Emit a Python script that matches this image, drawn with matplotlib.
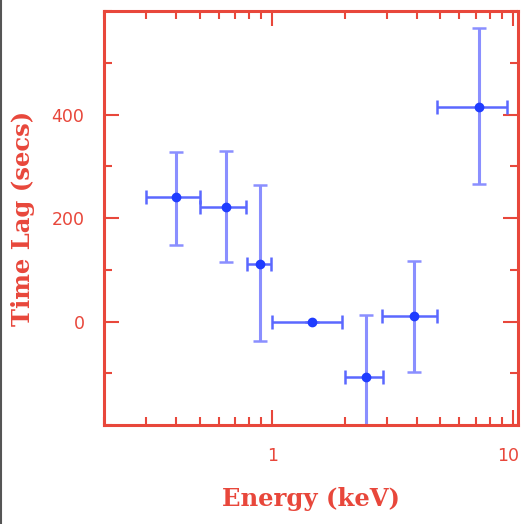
import matplotlib
matplotlib.use("Agg")
import matplotlib.pyplot as plt
import matplotlib.transforms as mtransforms
from matplotlib.ticker import LogLocator, FixedLocator, NullFormatter, MultipleLocator
from matplotlib.lines import Line2D
import numpy as np

# Data
energy = [0.40, 0.64, 0.89, 1.46, 2.45, 3.9, 7.2]
e_lo = [0.30, 0.50, 0.785, 1.0, 2.0, 2.87, 4.85]
e_hi = [0.50, 0.78, 0.985, 1.95, 2.9, 4.85, 9.45]
lag = [240, 222, 112, 0, -108, 10, 415]
lag_lo = [148, 115, -37, 0, -260, -98, 265]
lag_hi = [328, 330, 263, 0, 12, 117, 567]

xticks = [1, 10]
xticklabels = ["1", "10"]
yticks = [0, 200, 400]
yticklabels = ["0", "200", "400"]

red = "#e8473b"
blue_bar = "#8a8fff"
blue_pt = "#1f3cff"

fig = plt.figure(figsize=(5.21, 5.24), dpi=100)
ax = fig.add_axes([0.1996, 0.1889, 0.7946, 0.7901])

x = np.array(energy)
y = np.array(lag)
xerr = np.array([x - np.array(e_lo), np.array(e_hi) - x])
yerr = np.array([y - np.array(lag_lo), np.array(lag_hi) - y])

ax.errorbar(x, y, yerr=yerr, fmt="none", ecolor=blue_bar, elinewidth=2.2,
            capsize=5, capthick=1.8, zorder=2)
ax.errorbar(x, y, xerr=xerr, fmt="none", ecolor="#5b68ff", elinewidth=1.8,
            capsize=5, capthick=1.8, zorder=3)
ax.plot(x, y, "o", color=blue_pt, markersize=6, zorder=4)

ax.set_xscale("log")
ax.set_xlim(0.2, 10.5)
ax.set_ylim(-200, 600)

ax.xaxis.set_major_locator(FixedLocator(xticks))
ax.set_xticklabels(xticklabels)
ax.xaxis.set_minor_locator(LogLocator(base=10, subs=np.arange(2, 10)))
ax.xaxis.set_minor_formatter(NullFormatter())
ax.yaxis.set_major_locator(FixedLocator(yticks))
ax.set_yticklabels(yticklabels)
ax.yaxis.set_minor_locator(MultipleLocator(100))

for s in ax.spines.values():
    s.set_color(red)
    s.set_linewidth(2.2)

ax.tick_params(which="both", direction="in", top=True, right=True, color=red,
               labelcolor=red, labelsize=12.5, pad=14)
ax.tick_params(which="major", length=11, width=1.5)
ax.tick_params(which="minor", length=6, width=1.5)
ax.tick_params(axis="x", pad=15.5)

# nudge the last x tick label left so it stays inside the figure
lbl = ax.get_xticklabels()[-1]
lbl.set_transform(lbl.get_transform() +
                  mtransforms.ScaledTranslation(-5 / 100, 0, fig.dpi_scale_trans))

ax.set_xlabel("Energy (keV)", color=red, fontsize=17.5, family="DejaVu Serif",
              fontweight="bold", labelpad=16)
ax.set_ylabel("Time Lag (secs)", color=red, fontsize=17.5, family="DejaVu Serif",
              fontweight="bold", labelpad=12)

fig.add_artist(Line2D([0.002, 0.002], [0, 1], transform=fig.transFigure,
                      color="#555555", linewidth=1.5))

fig.savefig("out.png", dpi=100)
